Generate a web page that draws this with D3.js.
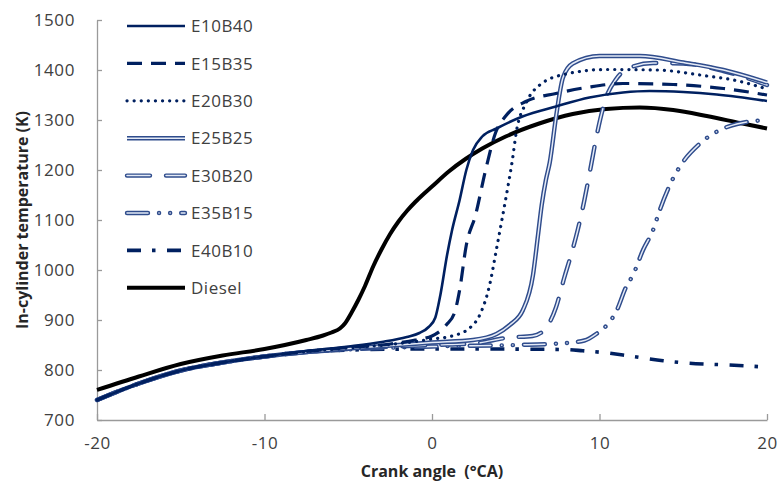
<!DOCTYPE html>
<html>
<head>
<meta charset="utf-8">
<script src="https://cdn.jsdelivr.net/npm/d3@7"></script>
<style>
  body { margin: 0; background: #fff; }
  text { font-family: "Open Sans", "Liberation Sans", sans-serif; }
</style>
</head>
<body>
<div id="chart"></div>
<script>
// tick labels
var xTicks = [-20, -10, 0, 10, 20];
var yTicks = [700, 800, 900, 1000, 1100, 1200, 1300, 1400, 1500];

// series values, [crank angle, temperature K]
var e10b40 = [[-20,740],[-17.5,773],[-15,799],[-12.5,815],[-10,827],[-7.5,838],[-5,847],[-3,856],[-1.5,866],[-0.75,874],[-0.2,886],[0.2,905],[0.5,950],[0.9,1030],[1.2,1080],[1.65,1140],[2.05,1200],[2.45,1240],[3,1267],[3.85,1283],[5.4,1307],[7.4,1327],[9.4,1345],[11.4,1355],[13,1358],[15,1356],[17,1351],[20,1338]];
var e15b35 = [[-20,740],[-17.5,773],[-15,799],[-12.5,815],[-10,827],[-7.5,837],[-5,845],[-2.5,852],[-1,860],[0,868],[0.85,890],[1.35,915],[1.65,960],[2.05,1050],[2.6,1110],[3.2,1200],[3.8,1275],[4.4,1308],[5.6,1337],[7.4,1353],[9.4,1366],[11.4,1373],[14.4,1371],[17.4,1363],[20,1350]];
var e20b30 = [[-20,740],[-17.5,773],[-15,799],[-12.5,815],[-10,827],[-7.5,837],[-5,844],[-2.5,851],[-1,857],[0,862],[1.2,868],[2.25,884],[2.85,910],[3.44,970],[3.84,1040],[4.2,1105],[4.55,1170],[4.8,1220],[5.03,1275],[5.63,1335],[6.43,1370],[8,1392],[10.4,1401],[13.4,1400],[16.4,1388],[18,1380],[20,1362]];
var e25b25 = [[-20,740],[-17.5,773],[-15,799],[-12.5,815],[-10,827],[-7.5,836],[-5,843],[-2,850],[0,855],[2.45,860],[3.85,872],[4.64,890],[5.43,920],[6.03,990],[6.33,1070],[6.55,1130],[6.8,1180],[7.03,1215],[7.42,1310],[7.82,1385],[8.4,1413],[10,1428],[12.4,1428],[15,1415],[17.4,1400],[20,1375]];
var e30b20 = [[-20,740],[-17.5,773],[-15,799],[-12.5,815],[-10,827],[-7.5,836],[-5,842],[0,850],[2.5,853],[4.6,865],[6,868],[6.7,880],[7.4,925],[7.9,985],[8.3,1030],[8.7,1080],[9.1,1140],[9.5,1210],[9.82,1267],[10.4,1345],[11,1382],[12,1407],[13.2,1414],[15,1413],[17.4,1398],[20,1370]];
var e35b15 = [[-20,740],[-17.5,773],[-15,799],[-12.5,815],[-10,827],[-7.5,836],[-5,841],[0,847],[5,850],[7.6,853],[9.1,859],[9.8,872],[10.5,892],[11,917],[11.6,967],[12,990],[12.6,1040],[13.2,1080],[13.6,1120],[14.2,1170],[14.8,1207],[16,1253],[17.2,1280],[18.2,1292],[20,1300]];
var e40b10 = [[-20,740],[-17.5,773],[-15,799],[-12.5,815],[-10,827],[-7.5,836],[-5,840],[0,842],[2.65,842],[7.8,841],[9,838.5],[10.2,835],[11.4,830],[12.5,824.5],[13.8,818.5],[15,814.5],[16.2,812],[17.4,810.5],[18.6,808.5],[20,805.5]];
var diesel = [[-20,760],[-17.5,787],[-15,812],[-12.5,829],[-10,842],[-7.5,860],[-6.5,869],[-6,875],[-5.5,883],[-5.2,893],[-4.8,915],[-4.4,940],[-4,968],[-3.5,1008],[-3,1042],[-2.5,1072],[-2,1097],[-1.5,1118],[-1,1136],[-0.5,1152],[0,1167],[1,1197],[2,1222],[3,1243],[4.4,1267],[6.4,1293],[8.4,1312],[10.4,1322],[12.4,1325],[14.4,1320],[16.4,1308],[18.4,1294],[20,1283]];

var seriesNames = ["E10B40", "E15B35", "E20B30", "E25B25", "E30B20", "E35B15", "E40B10", "Diesel"];
var seriesData = [e10b40, e15b35, e20b30, e25b25, e30b20, e35b15, e40b10, diesel];

// line styles per series
var navy = "#002060";
var styles = [
    {color: navy, width: 2.6, dash: null, cap: "butt"},
    {color: navy, width: 3.2, dash: "15 9", cap: "butt"},
    {color: navy, width: 3.2, dash: "0.1 7", cap: "round"},
    {color: "#2f4c8c", width: 4.4, dash: null, cap: "butt", dbl: true},
    {color: "#2f4c8c", width: 4.4, dash: "23 16", cap: "round", dbl: true},
    {color: "#2f4c8c", width: 4.4, dash: "21 11 0.1 11 0.1 11", cap: "round", dbl: true},
    {color: navy, width: 3.6, dash: "14 11 3.5 11.5", cap: "butt"},
    {color: "#000", width: 4, dash: null, cap: "butt"}
];

var height = 483;
var width = 777;

var margins = {
    top: 20,
    right: 10,
    bottom: 63,
    left: 97
}

var chartHeight = height - margins.top - margins.bottom;
var chartWidth = width - margins.left - margins.right;

var svg = d3.select("#chart").append("svg")
    .attr("height", height)
    .attr("width", width);

var chartGroup = svg.append("g")
    .attr("transform", `translate(${margins.left}, ${margins.top})`);

var xLinearScale = d3.scaleLinear()
    .domain([-20, 20])
    .range([0, chartWidth]);

var yLinearScale = d3.scaleLinear()
    .domain([700, 1500])
    .range([chartHeight, 0]);

// plain labels: no thousands comma, ascii minus
var plain = d => String(d);

var bottomAxis = d3.axisBottom(xLinearScale).tickValues(xTicks).tickFormat(plain).tickSize(-6).tickPadding(17).tickSizeOuter(0);
var leftAxis = d3.axisLeft(yLinearScale).tickValues(yTicks).tickFormat(plain).tickSize(-5).tickPadding(22).tickSizeOuter(0);

var xAxis = chartGroup.append("g")
    .attr("transform", `translate(0, ${chartHeight})`)
    .call(bottomAxis);

var yAxis = chartGroup.append("g")
    .call(leftAxis);

[xAxis, yAxis].forEach(function (ax) {
    ax.selectAll("path, line").attr("stroke", "#9a9a9a").attr("stroke-width", 1.3);
    ax.selectAll("text")
        .attr("fill", "#404040")
        .attr("font-size", "17px")
        .attr("letter-spacing", "0.6px")
        .attr("font-family", "'Open Sans', sans-serif");
});

var line = d3.line()
    .x(d => xLinearScale(d[0]))
    .y(d => yLinearScale(d[1]))
    .curve(d3.curveMonotoneX);

function drawStyled(g, pathD, s) {
    g.append("path")
        .attr("d", pathD)
        .attr("fill", "none")
        .attr("stroke", s.color)
        .attr("stroke-width", s.width)
        .attr("stroke-linecap", s.cap)
        .attr("stroke-linejoin", "round")
        .attr("stroke-dasharray", s.dash);
    if (s.dbl) {
        g.append("path")
            .attr("d", pathD)
            .attr("fill", "none")
            .attr("stroke", "#e4eaf6")
            .attr("stroke-width", 1.5)
            .attr("stroke-linecap", s.cap)
            .attr("stroke-linejoin", "round")
            .attr("stroke-dasharray", s.dash);
    }
}

// draw in reverse so the early series sit on top
var linesGroup = chartGroup.append("g");
for (var i = seriesData.length - 1; i >= 0; i--) {
    drawStyled(linesGroup.append("g"), line(seriesData[i]), styles[i]);
}

// legend
var legendGroup = svg.append("g");
seriesNames.forEach(function (name, i) {
    var ly = 26 + i * 37.4;
    drawStyled(legendGroup.append("g"), `M127,${ly}L185,${ly}`, styles[i]);
    legendGroup.append("text")
        .attr("x", 191)
        .attr("y", ly)
        .attr("dy", "0.36em")
        .attr("font-size", "17px")
        .attr("letter-spacing", "0.5px")
        .attr("fill", "#404040")
        .text(name);
});

// axis titles
svg.append("text")
    .attr("transform", `translate(22, ${margins.top + chartHeight / 2}) rotate(-90)`)
    .attr("text-anchor", "middle")
    .attr("dy", "0.35em")
    .attr("font-size", "16px")
    .attr("font-weight", "bold")
    .attr("fill", "#262626")
    .text("In-cylinder temperature (K)");

svg.append("text")
    .attr("x", margins.left + chartWidth / 2)
    .attr("y", 477)
    .attr("text-anchor", "middle")
    .attr("font-size", "16px")
    .attr("font-weight", "bold")
    .attr("fill", "#262626")
    .attr("xml:space", "preserve")
    .text("Crank angle  (°CA)");
</script>
</body>
</html>
